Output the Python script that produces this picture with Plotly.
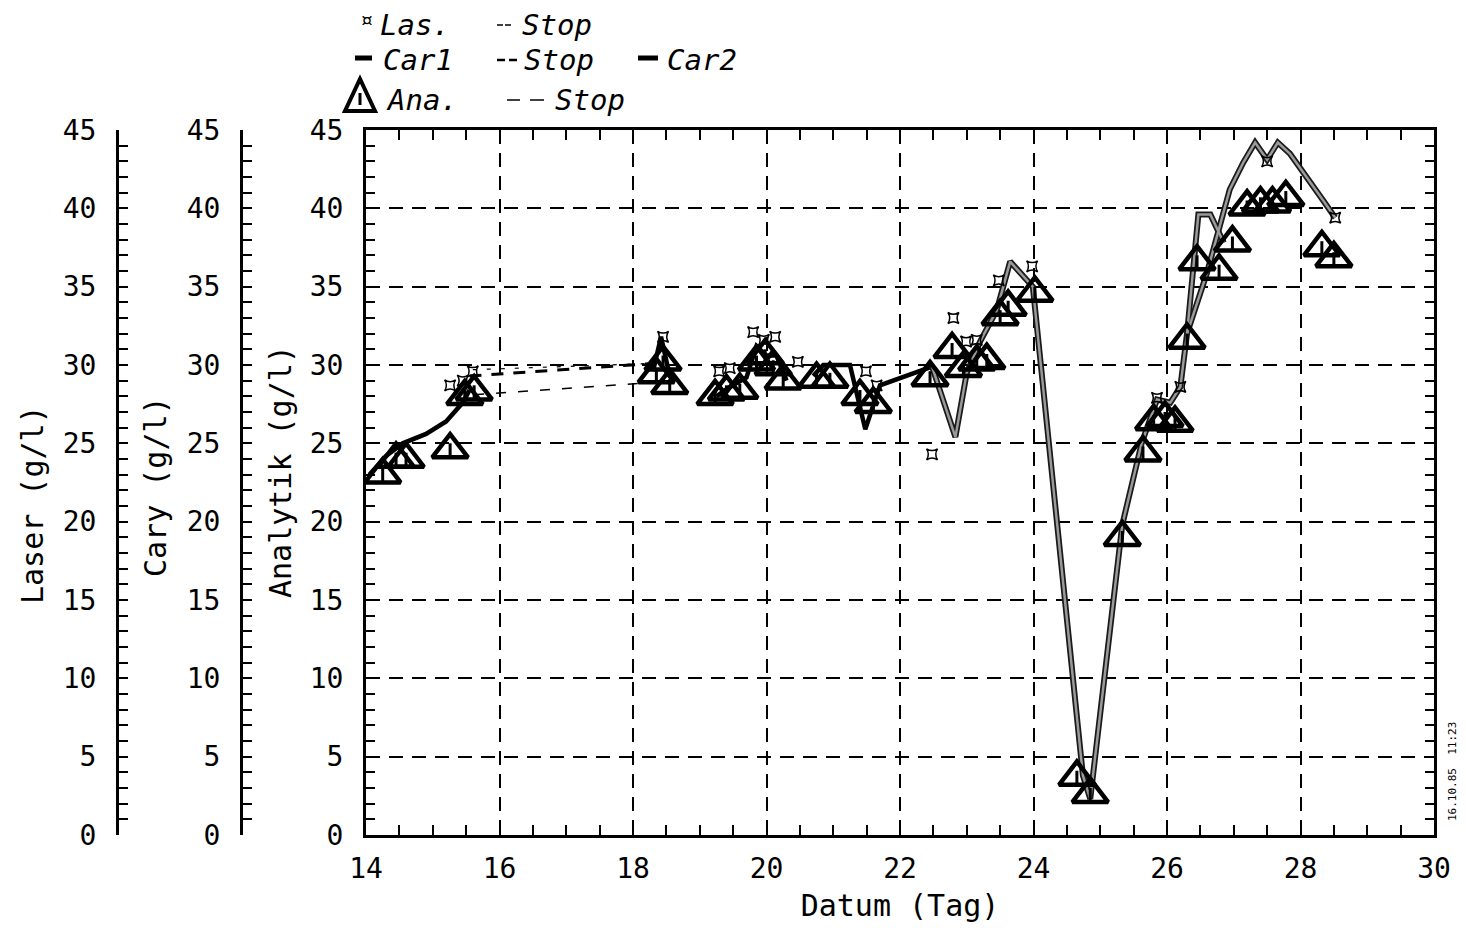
import plotly.graph_objects as go

# ---------------- data ----------------
# Analytik (triangles)
ana_x = [14.25, 14.45, 14.6, 15.26, 15.48, 15.62, 18.35, 18.45, 18.55,
         19.23, 19.4, 19.6, 19.85, 19.98, 20.1, 20.25, 20.75, 20.95,
         21.4, 21.6, 22.45, 22.78, 22.95, 23.15, 23.3, 23.5, 23.62, 24.02,
         24.65, 24.85, 25.33, 25.64, 25.8, 25.97, 26.12, 26.3, 26.45,
         26.78, 26.98, 27.2, 27.4, 27.58, 27.78, 28.32, 28.5]
ana_y = [23.0, 24.0, 24.0, 24.6, 28.0, 28.3, 29.4, 30.2, 28.7,
         28.0, 28.3, 28.4, 30.2, 30.6, 29.9, 29.0, 29.1, 29.1,
         28.0, 27.5, 29.2, 31.0, 29.8, 30.2, 30.3, 33.1, 33.7, 34.6,
         3.7, 2.6, 19.0, 24.4, 26.4, 26.6, 26.3, 31.6, 36.6,
         36.0, 37.8, 40.1, 40.3, 40.3, 40.7, 37.5, 36.8]

# Laser (small markers)
las_x = [15.26, 15.45, 15.6, 18.45, 19.29, 19.45, 19.8, 19.96, 20.13, 20.47,
         21.49, 21.65, 22.48, 22.8, 22.99, 23.15, 23.48, 23.98,
         25.85, 26.2, 27.5, 28.52]
las_y = [28.7, 29.0, 29.6, 31.8, 29.6, 29.8, 32.1, 31.6, 31.8, 30.2,
         29.6, 28.7, 24.3, 33.0, 31.5, 31.6, 35.4, 36.3,
         27.9, 28.6, 43.0, 39.4]

# Car1 (black line, segments separated by None)
car1_x = [14.05, 14.3, 14.55, 14.9, 15.2, 15.45, 15.55, None,
          18.3, 18.42, 18.55, None,
          19.25, 19.45, 19.7, 19.85, 20.0, 20.15, 20.3, None,
          20.7, 20.85, 21.25, 21.48, 21.7, 22.48]
car1_y = [23.0, 24.2, 25.0, 25.6, 26.4, 27.6, 28.4, None,
          29.6, 31.8, 29.3, None,
          28.0, 28.6, 29.2, 31.2, 30.6, 30.6, 29.0, None,
          29.3, 30.0, 30.0, 25.9, 28.7, 29.9]

# Car2 (grey line)
car2_x = [22.48, 22.83, 23.0, 23.2, 23.45, 23.65, 23.99, 24.74, 24.85, 25.33,
          25.62, 25.85, 26.05, 26.2, 26.3, 26.47, 26.65, 26.85, None,
          26.3, 26.6, 26.94, 27.14, 27.32, 27.5, 27.66, 27.84, 28.34, 28.52]
car2_y = [29.9, 25.4, 29.5, 31.5, 33.5, 36.6, 35.0, 3.8, 2.3, 19.8,
          25.0, 27.8, 27.6, 28.6, 32.0, 39.6, 39.6, 37.8, None,
          32.0, 35.9, 41.2, 42.9, 44.2, 43.1, 44.2, 43.5, 40.5, 39.4]

# "Stop" connections
las_stop_x, las_stop_y = [15.6, 18.3], [29.7, 30.1]
car1_stop_x, car1_stop_y = [15.55, 18.3], [29.3, 30.1]
ana_stop_x, ana_stop_y = [15.62, 18.35], [28.1, 28.9]

x_ticks = [14, 16, 18, 20, 22, 24, 26, 28, 30]
y_ticks = [0, 5, 10, 15, 20, 25, 30, 35, 40, 45]

# ---------------- layout helpers ----------------
W, H = 1466, 939
ML, MR, MT, MB = 100, 32, 130, 104
PW, PH = W - ML - MR, H - MT - MB


def px(x):
    return (x - ML) / PW


def py(y):
    return (H - MB - y) / PH


FONT = "DejaVu Sans Mono"

fig = go.Figure()

fig.add_trace(go.Scatter(x=las_stop_x, y=las_stop_y, mode="lines",
                         line=dict(color="black", width=1.2, dash="4px,10px"),
                         showlegend=False, hoverinfo="skip"))
fig.add_trace(go.Scatter(x=car1_stop_x, y=car1_stop_y, mode="lines",
                         line=dict(color="black", width=3, dash="12px,10px"),
                         showlegend=False, hoverinfo="skip"))
fig.add_trace(go.Scatter(x=ana_stop_x, y=ana_stop_y, mode="lines",
                         line=dict(color="black", width=1.5, dash="10px,12px"),
                         showlegend=False, hoverinfo="skip"))

fig.add_trace(go.Scatter(x=car1_x, y=car1_y, mode="lines",
                         line=dict(color="black", width=4.5),
                         connectgaps=False, showlegend=False, name="Car1"))

fig.add_trace(go.Scatter(x=car2_x, y=car2_y, mode="lines",
                         line=dict(color="#1a1a1a", width=6),
                         connectgaps=False, showlegend=False, hoverinfo="skip"))
fig.add_trace(go.Scatter(x=car2_x, y=car2_y, mode="lines",
                         line=dict(color="#9a9a9a", width=2.5),
                         connectgaps=False, showlegend=False, name="Car2"))

fig.add_trace(go.Scatter(x=ana_x, y=ana_y, mode="markers",
                         marker=dict(symbol="triangle-up-open", size=31,
                                     color="black", line=dict(width=4.5, color="black")),
                         showlegend=False, name="Ana."))
# the small mark inside every triangle
fig.add_trace(go.Scatter(x=ana_x, y=ana_y, mode="markers",
                         marker=dict(symbol="line-ns", size=9,
                                     line=dict(width=3, color="black")),
                         showlegend=False, hoverinfo="skip"))

fig.add_trace(go.Scatter(x=las_x, y=las_y, mode="markers",
                         marker=dict(symbol="star-square-open", size=10,
                                     color="black", line=dict(width=1.5, color="black")),
                         showlegend=False, name="Las."))

# dummy traces so the extra axes are drawn
fig.add_trace(go.Scatter(x=[14], y=[0], yaxis="y2", mode="markers",
                         marker=dict(opacity=0), showlegend=False, hoverinfo="skip"))
fig.add_trace(go.Scatter(x=[14], y=[0], yaxis="y3", mode="markers",
                         marker=dict(opacity=0), showlegend=False, hoverinfo="skip"))

tickfont = dict(family=FONT, size=28, color="black")
yax_common = dict(range=[0, 45], tickvals=y_ticks, ticks="inside", ticklen=9,
                  tickwidth=1.5, tickcolor="black",
                  minor=dict(dtick=1, ticks="inside", ticklen=9, tickwidth=1.5,
                             tickcolor="black", showgrid=False),
                  showline=True, linecolor="black", linewidth=3,
                  zeroline=False, tickfont=tickfont, ticklabelstandoff=14,
                  fixedrange=True)

fig.update_layout(
    width=W, height=H,
    margin=dict(l=ML, r=MR, t=MT, b=MB),
    paper_bgcolor="white", plot_bgcolor="white",
    font=dict(family=FONT, color="black"),
    showlegend=False,
    xaxis=dict(domain=[px(366), 1], range=[14, 30], tickvals=x_ticks,
               ticks="inside", ticklen=10, tickwidth=1.5, tickcolor="black",
               minor=dict(dtick=0.5, ticks="inside", ticklen=8, tickwidth=1.5,
                          tickcolor="black", showgrid=False),
               showline=True, linecolor="black", linewidth=3, mirror="allticks",
               showgrid=True, gridcolor="black", gridwidth=1.5, griddash="14px,9px",
               zeroline=False, tickfont=tickfont, ticklabelstandoff=6,
               title=dict(text="Datum (Tag)", font=dict(family=FONT, size=30),
                          standoff=12)),
    yaxis=dict(**yax_common, anchor="x", mirror="allticks", showgrid=True,
               gridcolor="black", gridwidth=1.5, griddash="14px,9px"),
    yaxis2=dict(**yax_common, overlaying="y", anchor="free", side="left",
                position=px(241), showgrid=False),
    yaxis3=dict(**yax_common, overlaying="y", anchor="free", side="left",
                position=px(117), showgrid=False),
)

annots = []
# axis titles
for txt, xx, yy in [("Laser (g/l)", 32, 505), ("Cary (g/l)", 156, 487),
                    ("Analytik (g/l)", 280, 472)]:
    annots.append(dict(text=txt, x=px(xx), y=py(yy), xref="paper", yref="paper",
                       textangle=-90, showarrow=False,
                       font=dict(family=FONT, size=30, color="black"),
                       xanchor="center", yanchor="middle"))
# legend texts
LF = dict(family=FONT, size=29, color="black")
for txt, xx, yy in [("Las.", 378, 25), ("Stop", 520, 25),
                    ("Car1", 381, 60), ("Stop", 522, 60), ("Car2", 665, 60),
                    ("Ana.", 384, 100), ("Stop", 553, 100)]:
    annots.append(dict(text="<i>" + txt + "</i>", x=px(xx), y=py(yy),
                       xref="paper", yref="paper", showarrow=False, font=LF,
                       xanchor="left", yanchor="middle"))
annots.append(dict(text="\u00a4", x=px(366), y=py(19), xref="paper", yref="paper",
                   showarrow=False, font=dict(family=FONT, size=22, color="black"),
                   xanchor="center", yanchor="middle"))
# timestamp
annots.append(dict(text="16.10.85  11:23", x=px(1452), y=py(772), xref="paper",
                   yref="paper", textangle=-90, showarrow=False,
                   font=dict(family=FONT, size=11, color="black"),
                   xanchor="center", yanchor="middle"))
fig.update_layout(annotations=annots)

shapes = []


def seg(x0, x1, y, w):
    shapes.append(dict(type="line", xref="paper", yref="paper",
                       x0=px(x0), x1=px(x1), y0=py(y), y1=py(y),
                       line=dict(color="black", width=w)))


seg(355, 372, 58, 5)      # Car1 symbol
seg(638, 658, 58, 5)      # Car2 symbol
seg(497, 503, 25, 1.5)    # Las stop dashes
seg(505, 511, 25, 1.5)
seg(497, 505, 60, 2.5)    # Car1 stop dashes
seg(509, 517, 60, 2.5)
seg(507, 520, 100, 1.5)   # Ana stop dashes
seg(530, 544, 100, 1.5)
# Ana legend triangle
tx, ty = 360, 96
shapes.append(dict(type="path", xref="paper", yref="paper",
                   path=f"M {px(tx-15)} {py(ty+15)} L {px(tx+15)} {py(ty+15)} "
                        f"L {px(tx)} {py(ty-17)} Z",
                   line=dict(color="black", width=4), fillcolor="rgba(0,0,0,0)"))
seg(360, 360, 100, 0)
shapes.append(dict(type="line", xref="paper", yref="paper",
                   x0=px(360), x1=px(360), y0=py(93), y1=py(105),
                   line=dict(color="black", width=3)))
fig.update_layout(shapes=shapes)

fig.write_html("out.html")
